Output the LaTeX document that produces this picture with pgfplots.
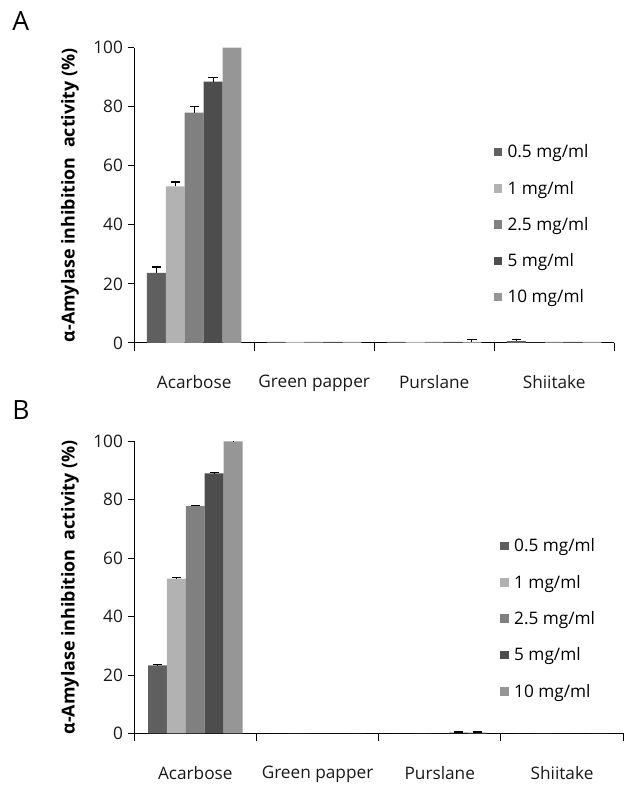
\documentclass[border=0pt]{standalone}
\usepackage{pgfplots}
\pgfplotsset{compat=1.18}
\usepackage{fontspec}
\setmainfont{Open Sans}
\definecolor{cA}{HTML}{5F5F5F}
\definecolor{cB}{HTML}{B2B2B2}
\definecolor{cC}{HTML}{808080}
\definecolor{cD}{HTML}{4D4D4D}
\definecolor{cE}{HTML}{969696}
\pgfplotsset{
  panel/.style={
    scale only axis,
    ybar=0pt, bar width=14.25pt,
    ymin=0, ymax=100, xmin=-0.5, xmax=3.5,
    ytick={0,20,...,100},
    axis x line=bottom, axis y line=left,
    axis line style={-, black, line width=0.7pt},
    xtick={0,1,2,3},
    xticklabels={Acarbose, Green papper, Purslane, Shiitake},
    major x tick style={draw=none},
    minor xtick={-0.5,0.5,1.5,2.5,3.5},
    minor tick length=6pt,
    minor x tick style={black, line width=0.7pt},
    major tick length=5pt,
    major y tick style={black, line width=0.7pt},
    tick align=outside,
    /pgf/number format/assume math mode=true,
    tick label style={font=\fontsize{13}{15}\selectfont, text=black!90},
    xticklabel style={yshift=-16pt},
    ylabel={α-Amylase inhibition\ \ activity (\%)},
    ylabel style={font=\fontsize{13.5}{15}\selectfont\bfseries, yshift=4pt},
    enlarge x limits=false,
    error bars/y dir=plus, error bars/y explicit,
    error bars/error bar style={black, line width=0.8pt},
    error bars/error mark options={black, line width=0.8pt, mark size=3.5pt, rotate=90},
    legend style={draw=none, fill=none, font=\fontsize{13}{15}\selectfont,
      row sep=12pt, legend cell align=left, anchor=north west,
      nodes={inner xsep=4pt}},
    legend image code/.code={\fill[#1] (0pt,-3pt) rectangle (6.5pt,3.5pt);},
  }
}
\begin{document}
\begin{tikzpicture}[x=1pt,y=1pt]
\path (0,0) rectangle (471.75,-590.25);
\node[font=\fontsize{20}{22}\selectfont] at (21*0.75,-21*0.75) {A};
\node[font=\fontsize{20}{22}\selectfont] at (21*0.75,-413*0.75) {B};
\begin{axis}[panel, width=362.25pt, height=222.75pt,
  at={(101.25pt,-258.75pt)}, anchor=south west,
  legend style={at={(rel axis cs:0.74,0.69)}}]
\addplot[fill=cA, draw=none] coordinates {(0,23.7) +- (0,2) (1,0.3) (2,0.3) (3,0.6) +- (0,0.4)};
\addplot[fill=cB, draw=none] coordinates {(0,53) +- (0,1.5) (1,0.3) (2,0.3) (3,0)};
\addplot[fill=cC, draw=none] coordinates {(0,78) +- (0,2) (1,0.3) (2,0.3) (3,0.3)};
\addplot[fill=cD, draw=none] coordinates {(0,88.5) +- (0,1.4) (1,0.3) (2,0.3) (3,0.3)};
\addplot[fill=cE, draw=none] coordinates {(0,100) (1,0.3) (2,0.3) +- (0,1.0) (3,0.3)};
\legend{0.5 mg/ml, 1 mg/ml, 2.5 mg/ml, 5 mg/ml, 10 mg/ml}
\end{axis}
\begin{axis}[panel, width=369pt, height=220.5pt,
  at={(101.25pt,-553.5pt)}, anchor=south west,
  legend style={at={(rel axis cs:0.74,0.685)}}]
\addplot[fill=cA, draw=none] coordinates {(0,23.3) +- (0,0.2) (1,0) (2,0) (3,0)};
\addplot[fill=cB, draw=none] coordinates {(0,53) +- (0,0.3) (1,0) (2,0) (3,0)};
\addplot[fill=cC, draw=none] coordinates {(0,77.8) +- (0,0.3) (1,0) (2,0) (3,0)};
\addplot[fill=cD, draw=none] coordinates {(0,89) +- (0,0.3) (1,0) (2,0.3) +- (0,0.2) (3,0)};
\addplot[fill=cE, draw=none] coordinates {(0,100) +- (0,0.2) (1,0) (2,0.3) +- (0,0.2) (3,0)};
\legend{0.5 mg/ml, 1 mg/ml, 2.5 mg/ml, 5 mg/ml, 10 mg/ml}
\end{axis}
\end{tikzpicture}
\end{document}
